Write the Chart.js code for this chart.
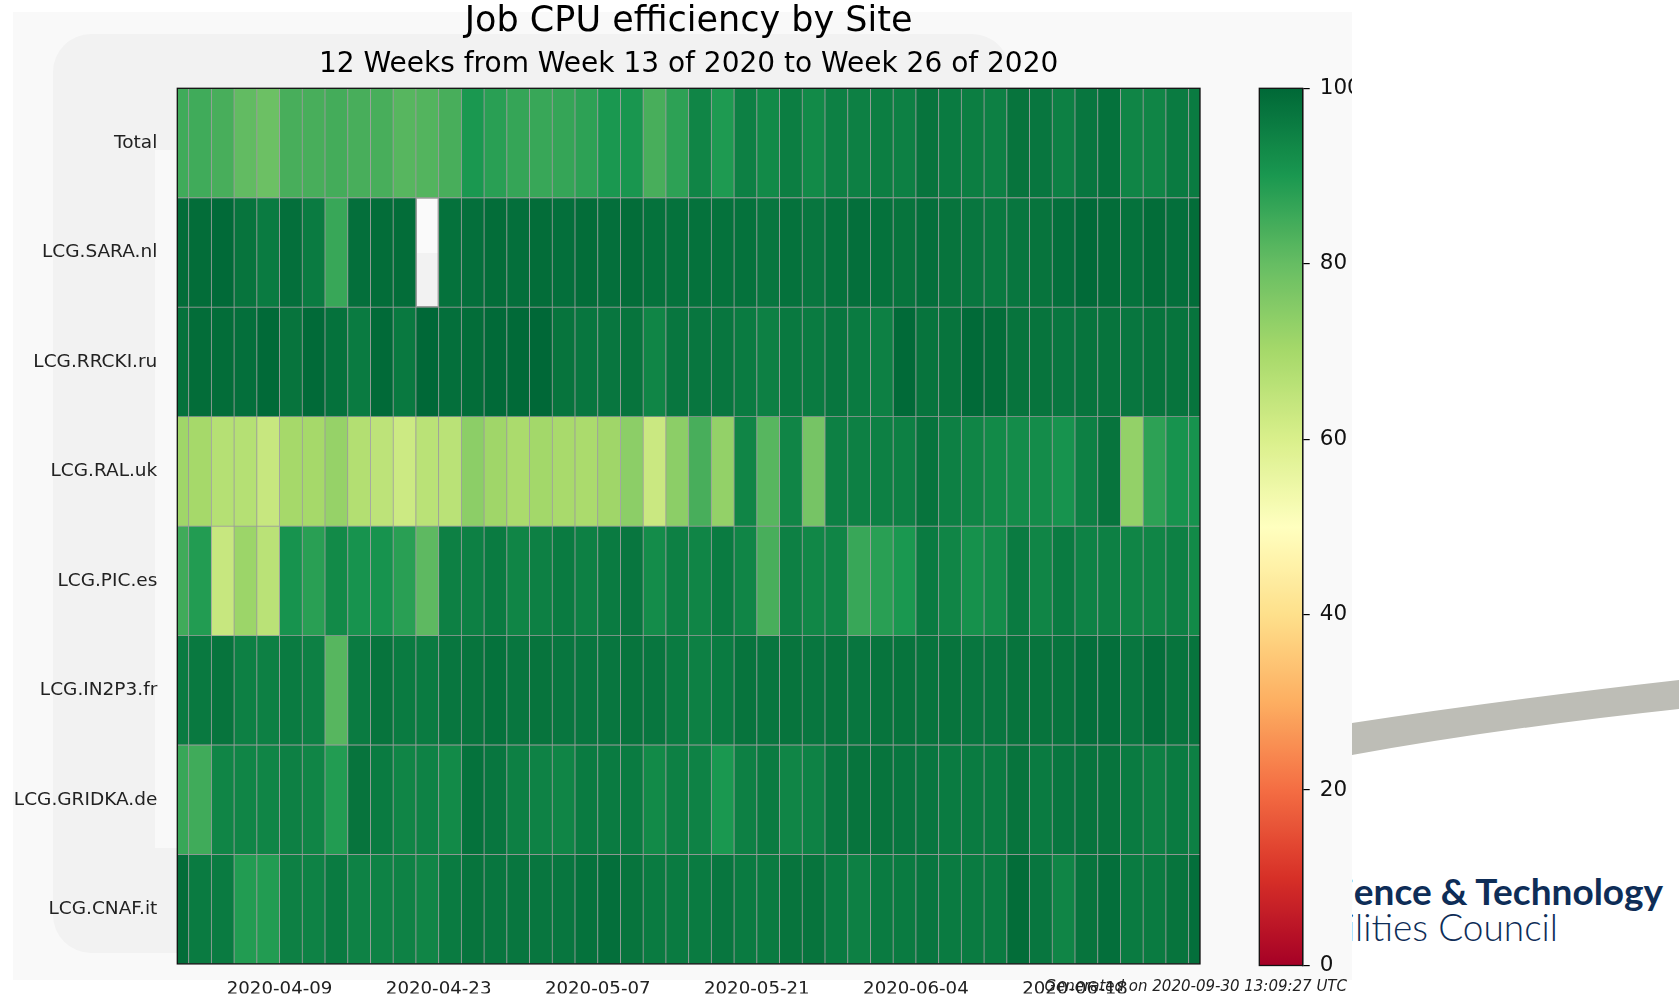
<!DOCTYPE html>
<html>
<head>
<meta charset="utf-8">
<script src="https://cdn.jsdelivr.net/npm/chart.js@4.4.1/dist/chart.umd.min.js"></script>
<style>
  html, body { margin: 0; padding: 0; background: #ffffff; width: 1679px; height: 995px; overflow: hidden; font-family: "DejaVu Sans", sans-serif; }
  .abs { position: absolute; }
  #bgOuter { left: 13px; top: 12px; width: 1339px; height: 968px; background: #f9f9f9; }
  #bgInner { left: 53px; top: 34px; width: 957px; height: 919px; background: #f2f2f2; border-radius: 38px; }
  #bgStrip { left: 155px; top: 150px; width: 22px; height: 698px; background: #f9f9f9; }
  #bgPatch { left: 400px; top: 150px; width: 60px; height: 103px; background: #fafafa; }
  #heatWrap { left: 0; top: 0; width: 1210px; height: 995px; }
  #cbClip { left: 1230px; top: 0; width: 122px; height: 995px; overflow: hidden; }
  #cbWrap { left: 0; top: 0; width: 200px; height: 995px; }
  #gen { right: 332px; top: 977px; font: italic 15px "DejaVu Sans", sans-serif; color: #222; line-height: 18px; white-space: nowrap; }
  #logoClip { left: 1352px; top: 860px; width: 327px; height: 100px; overflow: hidden; }
  .logoLine { position: absolute; white-space: nowrap; font-family: Lato, "Open Sans", sans-serif; font-size: 37px; line-height: 37px; color: #0e2d57; }
  #logo1 { right: 16px; top: 12px; font-weight: bold; }
  #logo2 { right: 121px; top: 48px; font-weight: 300; }
</style>
</head>
<body>
<div id="bgOuter" class="abs"></div>
<div id="bgInner" class="abs"></div>
<div id="bgStrip" class="abs"></div>
<div id="bgPatch" class="abs"></div>
<svg class="abs" style="left:1352px;top:660px" width="327" height="110">
  <path d="M0,63 Q150,40 327,20 L327,49 Q150,68 0,95 Z" fill="#bdbdb6"></path>
</svg>
<div id="logoClip" class="abs">
  <div id="logo1" class="logoLine">Science &amp; Technology</div>
  <div id="logo2" class="logoLine">Facilities Council</div>
</div>
<div id="heatWrap" class="abs"><canvas id="heat"></canvas></div>
<div id="cbClip" class="abs"><div id="cbWrap" class="abs"><canvas id="cbar"></canvas></div></div>
<div id="gen" class="abs">Generated on 2020-09-30 13:09:27 UTC</div>

<script>
// ---------------- data ----------------
const titleText = 'Job CPU efficiency by Site';
const subtitleText = '12 Weeks from Week 13 of 2020 to Week 26 of 2020';

const siteNames = ['Total', 'LCG.SARA.nl', 'LCG.RRCKI.ru', 'LCG.RAL.uk', 'LCG.PIC.es', 'LCG.IN2P3.fr', 'LCG.GRIDKA.de', 'LCG.CNAF.it'];

const columnDates = [
  '2020-03-31','2020-04-02','2020-04-04','2020-04-06','2020-04-08','2020-04-10','2020-04-12','2020-04-14',
  '2020-04-16','2020-04-18','2020-04-20','2020-04-22','2020-04-24','2020-04-26','2020-04-28','2020-04-30',
  '2020-05-02','2020-05-04','2020-05-06','2020-05-08','2020-05-10','2020-05-12','2020-05-14','2020-05-16',
  '2020-05-18','2020-05-20','2020-05-22','2020-05-24','2020-05-26','2020-05-28','2020-05-30','2020-06-01',
  '2020-06-03','2020-06-05','2020-06-07','2020-06-09','2020-06-11','2020-06-13','2020-06-15','2020-06-17',
  '2020-06-19','2020-06-21','2020-06-23','2020-06-25','2020-06-27','2020-06-29'
];

const tickLabels = ['2020-04-09', '2020-04-23', '2020-05-07', '2020-05-21', '2020-06-04', '2020-06-18'];

const totalEff  = [85,85,84,80.5,79,84,84,84.5,84,84,82,82.5,84,90,88,86.5,86,86.5,87.5,90,90.5,84,87.5,
                   94,89.5,95,93,95.5,93,95,95,95.5,95,97.5,96,95.5,95,97.5,97,95,97,98,94,94,96,96];
const saraEff   = [99,99,99.5,97.5,96,98.5,96,86,98.5,99,99,null,98,98.5,99,98.5,99,98.5,99,98.5,99,98,98,
                   98,98,98,97,98,97,98,98.5,98,97.5,98.5,97.5,97,96.5,97,97.5,98.5,99.5,99,98,99,98.5,99];
const rrckiEff  = [98,99,99,98.5,99.5,97.5,99.5,98,96,99.5,96.5,100,98.5,99,99.5,99.5,100,97.5,97,97,97.5,94,97,
                   97,97,96,95,96.5,96,97,96,95,99.5,97.5,97.5,99.5,99,97.5,97.5,97,97.5,97.5,97,97.5,97.5,97.5];
const ralEff    = [71,70,67,67,63.5,70,70,72.5,67.5,65.5,62.5,66,66,74,71,69,70.5,69.5,69,71,74,63,74,
                   84,73,94,82,94,77.5,95,95,95,95,97.5,95,94,93,92.5,92.5,91,95,97.5,73,87.5,91,91];
const picEff    = [85,89,63.5,71.5,66,91,88,93,91,91,88,81,95,95,96,94,95,96,95,96,97,92.5,95,
                   94,96,94,84,95,93.5,94,86,88,90,96,94,91.5,92.5,96,94,96,94.5,95,94,94,95,93];
const in2p3Eff  = [96,96.5,97.5,95,95,96,95,82,96,97.5,96,96,97,97.5,98,97,97.5,97,97,97,97.5,97,96,
                   95,96,97.5,97,97.5,97,97.5,97,97.5,97.5,97.5,97.5,97,97,97.5,97.5,97.5,98.5,98.5,97,98.5,97.5,97.5];
const gridkaEff = [86,85,94,94,94,95,94,89,97.5,96,94,94.5,93,98,97,95,94.5,94,96,96,96,93,95,
                   94.5,90,95,96,94,94.5,97,97.5,97.5,97,97,96,96,96,97.5,96,97,97.5,97.5,96,95,96,95];
const cnafEff   = [99,96,96,89,89,95,94.5,96,94.5,94.5,94.5,94,96,97.5,97,97,97,97,98,98.5,97.5,96,96,
                   96,97,96,96,97.5,97.5,96,95,96,96,97,96,96,96,99,97,94,97.5,98.5,96,96,97.5,98.5];

const siteValues = [totalEff, saraEff, rrckiEff, ralEff, picEff, in2p3Eff, gridkaEff, cnafEff];

const colorbarRange = [0, 100];

// ---------------- helpers ----------------
const RDYLGN = ['#a50026','#d73027','#f46d43','#fdae61','#fee08b','#ffffbf','#d9ef8b','#a6d96a','#66bd63','#1a9850','#006837'];
function hexRgb(h) { return [parseInt(h.slice(1,3),16), parseInt(h.slice(3,5),16), parseInt(h.slice(5,7),16)]; }
function cmap(t) {
  t = Math.max(0, Math.min(1, t));
  const p = t * (RDYLGN.length - 1);
  const i = Math.min(RDYLGN.length - 2, Math.floor(p));
  const f = p - i;
  const a = hexRgb(RDYLGN[i]), b = hexRgb(RDYLGN[i + 1]);
  return 'rgb(' + a.map((c, k) => Math.round(c + (b[k] - c) * f)).join(',') + ')';
}
const DAY = 86400000;
const toDay = s => Math.round((Date.parse(s + 'T00:00:00Z') - Date.parse(columnDates[0] + 'T00:00:00Z')) / DAY);
const colDay = columnDates.map(toDay);
const tickDay = tickLabels.map(toDay);

Chart.defaults.font.family = '"DejaVu Sans", sans-serif';

const framePlugin = {
  id: 'frame',
  afterDatasetsDraw(chart) {
    const a = chart.chartArea, ctx = chart.ctx;
    ctx.save();
    ctx.strokeStyle = '#111';
    ctx.lineWidth = 1.3;
    ctx.strokeRect(a.left, a.top, a.right - a.left, a.bottom - a.top);
    ctx.restore();
  }
};

// ---------------- heatmap ----------------
new Chart(document.getElementById('heat'), {
  type: 'bar',
  data: {
    datasets: siteNames.map((name, r) => ({
      label: name,
      data: siteValues[r].map((v, c) => ({ x: colDay[c], y: [r, r + 1], v: v })),
      grouped: false,
      barPercentage: 1,
      categoryPercentage: 1,
      backgroundColor: ctx => (ctx.raw && ctx.raw.v !== null && ctx.raw.v !== undefined)
        ? cmap((ctx.raw.v - colorbarRange[0]) / (colorbarRange[1] - colorbarRange[0])) : 'rgba(0,0,0,0)',
      borderColor: '#9c9c9c',
      borderWidth: 0.75,
      borderSkipped: false,
      clip: 0
    }))
  },
  options: {
    responsive: true,
    maintainAspectRatio: false,
    animation: false,
    events: [],
    layout: { padding: { left: 0, right: 10, top: 0, bottom: 0 } },
    plugins: {
      legend: { display: false },
      tooltip: { enabled: false },
      title: {
        display: true, text: titleText, fullSize: false, color: '#000',
        font: { size: 35, weight: 'normal', lineHeight: 1 },
        padding: { top: 4.5, bottom: 6 }
      },
      subtitle: {
        display: true, text: subtitleText, fullSize: false, color: '#000',
        font: { size: 28, weight: 'normal', lineHeight: 1 },
        padding: { top: 5.5, bottom: 9.3 }
      }
    },
    scales: {
      x: {
        type: 'linear',
        offset: false,
        min: colDay[0],
        max: colDay[colDay.length - 1],
        afterBuildTicks: axis => { axis.ticks = tickDay.map(v => ({ value: v })); },
        afterFit: s => { s.height = 29.5; },
        grid: { display: false, drawTicks: false, offset: false },
        border: { display: false },
        ticks: {
          autoSkip: false, maxRotation: 0, minRotation: 0, padding: 14,
          color: '#222', font: { size: 18.2 },
          callback: (v, i) => tickLabels[i]
        }
      },
      y: {
        type: 'linear',
        offset: false,
        min: 0,
        max: siteNames.length,
        reverse: true,
        afterBuildTicks: axis => { axis.ticks = siteNames.map((n, i) => ({ value: i + 0.5 })); },
        afterFit: s => { s.width = 177.3; },
        grid: { display: false, drawTicks: false },
        border: { display: false },
        ticks: {
          autoSkip: false, padding: 20, color: '#222', font: { size: 18.5 },
          callback: (v, i) => siteNames[i]
        }
      }
    }
  },
  plugins: [framePlugin]
});

// ---------------- colorbar ----------------
let cbGrad = null, cbGradKey = '';
function cbFill(ctx) {
  const chart = ctx.chart, a = chart.chartArea;
  if (!a) return null;
  const key = a.top + '_' + a.bottom;
  if (!cbGrad || cbGradKey !== key) {
    const g = chart.ctx.createLinearGradient(0, a.bottom, 0, a.top);
    for (let k = 0; k <= 100; k++) g.addColorStop(k / 100, cmap(k / 100));
    cbGrad = g; cbGradKey = key;
  }
  return cbGrad;
}

new Chart(document.getElementById('cbar'), {
  type: 'bar',
  data: {
    labels: ['efficiency'],
    datasets: [{
      data: [[colorbarRange[0], colorbarRange[1]]],
      backgroundColor: cbFill,
      borderWidth: 0,
      barPercentage: 1,
      categoryPercentage: 1
    }]
  },
  options: {
    responsive: true,
    maintainAspectRatio: false,
    animation: false,
    events: [],
    layout: { padding: { left: 29.3, right: 0, top: 88.3, bottom: 29.5 } },
    plugins: { legend: { display: false }, tooltip: { enabled: false } },
    scales: {
      x: { display: false },
      y: {
        position: 'right',
        min: colorbarRange[0],
        max: colorbarRange[1],
        afterFit: s => { s.width = 127.3; },
        grid: { drawOnChartArea: false, drawTicks: true, tickLength: 7, color: '#000', lineWidth: 1.2 },
        border: { display: true, color: '#111', width: 1.3 },
        ticks: { stepSize: 20, padding: 10, color: '#111', font: { size: 21.5 } }
      }
    }
  },
  plugins: [framePlugin]
});
</script>
</body>
</html>
